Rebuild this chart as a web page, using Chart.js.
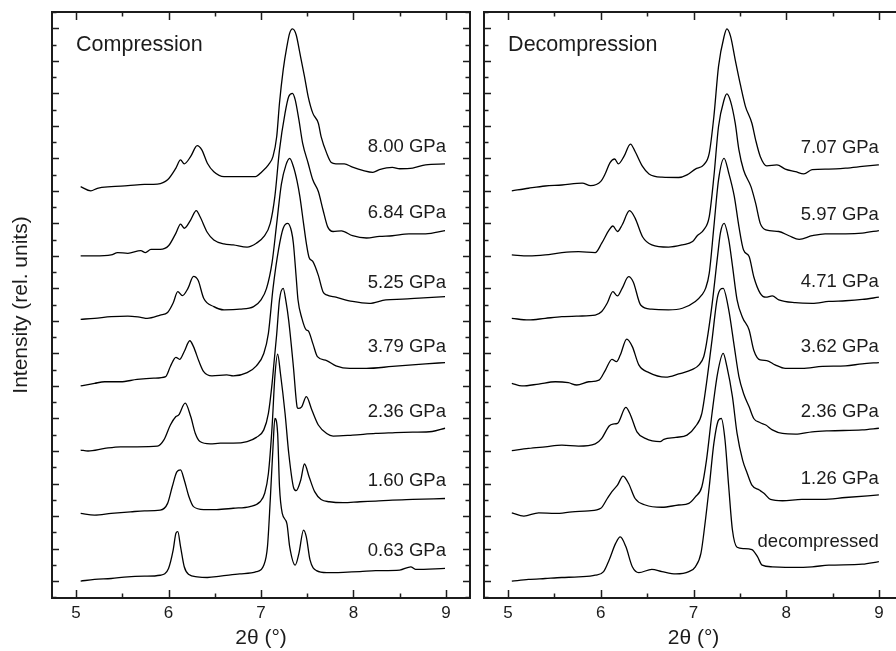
<!DOCTYPE html>
<html>
<head>
<meta charset="utf-8">
<script src="https://cdn.jsdelivr.net/npm/chart.js@4.4.1/dist/chart.umd.min.js"></script>
<style>
  html, body { margin: 0; padding: 0; background: #fff; overflow: hidden; }
  #wrap { position: relative; width: 896px; height: 651px; overflow: hidden; }
  #left { position: absolute; left: 0; top: 0; }
  #right { position: absolute; left: 478px; top: 0; }
</style>
</head>
<body>
<div id="wrap">
  <canvas id="left" width="478" height="651"></canvas>
  <canvas id="right" width="430" height="651"></canvas>
</div>
<script>
// XRD patterns, [2theta, intensity above own baseline]; spectra stacked by offsets
const comp063 = [[5.05,0],[5.2,0.05],[5.38,0.08],[5.56,0.13],[5.74,0.15],[5.91,0.18],[6.0,0.39],[6.05,0.95],[6.08,1.47],[6.1,1.52],[6.13,1.06],[6.17,0.44],[6.22,0.2],[6.31,0.13],[6.42,0.11],[6.56,0.15],[6.77,0.22],[6.95,0.29],[7.03,0.49],[7.07,1.06],[7.1,2.49],[7.13,4.13],[7.15,5.0],[7.18,4.54],[7.2,2.9],[7.23,2.08],[7.28,1.77],[7.31,1.06],[7.37,0.49],[7.41,0.85],[7.46,1.57],[7.49,1.36],[7.53,0.65],[7.6,0.32],[7.71,0.26],[7.89,0.27],[8.07,0.29],[8.24,0.32],[8.5,0.34],[8.62,0.44],[8.67,0.36],[8.99,0.39]];
const comp160 = [[5.05,0.08],[5.2,0.03],[5.38,0.08],[5.59,0.13],[5.74,0.16],[5.91,0.18],[5.99,0.39],[6.04,0.9],[6.09,1.36],[6.13,1.42],[6.17,1.11],[6.22,0.6],[6.27,0.29],[6.38,0.2],[6.52,0.2],[6.7,0.24],[6.88,0.29],[6.99,0.44],[7.04,0.7],[7.08,1.31],[7.12,2.75],[7.15,4.29],[7.18,4.98],[7.21,4.39],[7.26,3.16],[7.3,1.93],[7.35,0.9],[7.38,0.78],[7.43,1.11],[7.47,1.6],[7.52,1.21],[7.58,0.75],[7.65,0.51],[7.74,0.44],[7.89,0.41],[8.07,0.44],[8.24,0.46],[8.42,0.49],[8.64,0.51],[8.99,0.54]];
const comp236 = [[5.05,0.03],[5.13,0],[5.31,0.08],[5.48,0.13],[5.66,0.13],[5.88,0.15],[5.95,0.34],[6.02,0.8],[6.08,1.06],[6.11,1.11],[6.18,1.47],[6.24,1.06],[6.29,0.54],[6.34,0.29],[6.45,0.22],[6.56,0.24],[6.7,0.24],[6.85,0.29],[6.95,0.42],[7.03,0.65],[7.08,1.16],[7.12,2.08],[7.14,2.7],[7.17,3.6],[7.2,4.65],[7.24,5.0],[7.27,4.6],[7.3,4.0],[7.35,2.6],[7.39,1.36],[7.4,1.31],[7.44,1.36],[7.49,1.67],[7.55,1.26],[7.62,0.8],[7.71,0.54],[7.78,0.46],[7.99,0.49],[8.24,0.54],[8.42,0.56],[8.64,0.58],[8.85,0.6],[8.99,0.7]];
const comp379 = [[5.05,0],[5.2,0.08],[5.31,0.13],[5.48,0.13],[5.66,0.2],[5.84,0.24],[5.97,0.29],[6.02,0.6],[6.08,0.88],[6.12,0.82],[6.17,1.06],[6.23,1.39],[6.27,1.21],[6.33,0.75],[6.38,0.44],[6.47,0.31],[6.63,0.34],[6.7,0.31],[6.85,0.41],[6.95,0.62],[7.03,1.0],[7.08,1.62],[7.13,3.0],[7.19,4.2],[7.24,4.85],[7.29,5.0],[7.33,4.75],[7.35,4.39],[7.38,3.36],[7.4,2.65],[7.44,2.1],[7.49,1.72],[7.51,1.7],[7.56,1.31],[7.61,0.9],[7.71,0.78],[7.81,0.62],[7.96,0.54],[8.14,0.54],[8.42,0.6],[8.78,0.68],[8.99,0.72]];
const comp525 = [[5.05,0.05],[5.2,0.08],[5.38,0.13],[5.56,0.15],[5.7,0.11],[5.77,0.08],[5.91,0.18],[5.99,0.26],[6.05,0.55],[6.1,0.9],[6.15,0.78],[6.21,1.0],[6.27,1.37],[6.32,1.25],[6.38,0.7],[6.49,0.44],[6.6,0.34],[6.77,0.36],[6.92,0.44],[7.0,0.65],[7.06,1.0],[7.12,1.8],[7.17,3.0],[7.22,4.2],[7.27,4.8],[7.31,5.0],[7.35,4.75],[7.39,4.3],[7.42,3.83],[7.46,3.0],[7.49,2.39],[7.52,1.95],[7.56,1.83],[7.62,1.4],[7.67,0.9],[7.71,0.8],[7.81,0.73],[7.99,0.6],[8.17,0.54],[8.35,0.65],[8.53,0.67],[8.71,0.7],[8.99,0.75]];
const comp684 = [[5.05,0],[5.2,0],[5.38,0.03],[5.45,0.1],[5.56,0.08],[5.7,0.16],[5.75,0.1],[5.81,0.2],[5.91,0.2],[6.0,0.31],[6.08,0.7],[6.13,0.98],[6.17,0.85],[6.24,1.11],[6.3,1.39],[6.34,1.21],[6.42,0.72],[6.49,0.49],[6.6,0.37],[6.7,0.34],[6.85,0.27],[6.95,0.39],[7.03,0.59],[7.1,1.0],[7.15,1.83],[7.2,3.26],[7.26,4.39],[7.3,4.9],[7.34,5.0],[7.37,4.8],[7.41,4.18],[7.45,3.47],[7.51,2.85],[7.56,2.34],[7.62,1.98],[7.67,1.42],[7.72,0.9],[7.78,0.75],[7.87,0.77],[7.99,0.62],[8.14,0.55],[8.28,0.6],[8.42,0.62],[8.6,0.68],[8.78,0.68],[8.99,0.78]];
const comp800 = [[5.05,0.13],[5.16,0],[5.23,0.08],[5.38,0.13],[5.56,0.16],[5.74,0.2],[5.88,0.21],[5.99,0.34],[6.08,0.7],[6.13,0.95],[6.17,0.83],[6.24,1.06],[6.31,1.39],[6.36,1.26],[6.42,0.85],[6.49,0.59],[6.6,0.44],[6.74,0.44],[6.94,0.44],[7.01,0.59],[7.08,0.8],[7.13,1.06],[7.17,1.67],[7.2,2.7],[7.24,3.72],[7.28,4.44],[7.31,4.85],[7.34,4.98],[7.38,4.8],[7.42,4.24],[7.47,3.52],[7.51,2.9],[7.56,2.39],[7.62,2.08],[7.65,1.67],[7.71,1.16],[7.76,0.87],[7.81,0.83],[7.9,0.83],[7.99,0.73],[8.1,0.63],[8.21,0.57],[8.28,0.65],[8.42,0.72],[8.5,0.68],[8.64,0.7],[8.78,0.8],[8.99,0.83]];

const decDone = [[5.04,0],[5.22,0.05],[5.4,0.08],[5.58,0.11],[5.76,0.13],[5.94,0.18],[6.03,0.29],[6.09,0.65],[6.16,1.16],[6.21,1.36],[6.27,1.06],[6.34,0.44],[6.41,0.26],[6.55,0.36],[6.66,0.29],[6.81,0.22],[6.95,0.29],[7.02,0.44],[7.08,0.85],[7.12,1.67],[7.17,2.9],[7.22,4.24],[7.27,4.95],[7.3,5.0],[7.34,4.34],[7.38,2.9],[7.42,1.57],[7.47,1.04],[7.54,1.0],[7.63,0.97],[7.69,0.75],[7.74,0.49],[7.85,0.44],[8.1,0.42],[8.28,0.44],[8.46,0.49],[8.82,0.52],[9.0,0.6]];
const dec126 = [[5.04,0.1],[5.17,0],[5.33,0.1],[5.51,0.08],[5.69,0.13],[5.87,0.16],[6.0,0.24],[6.07,0.54],[6.12,0.75],[6.18,0.95],[6.24,1.23],[6.3,1.0],[6.37,0.54],[6.48,0.34],[6.66,0.27],[6.84,0.34],[6.95,0.39],[7.02,0.59],[7.09,0.9],[7.14,1.72],[7.2,3.16],[7.26,4.39],[7.32,5.0],[7.36,4.6],[7.42,3.67],[7.47,2.54],[7.53,1.72],[7.58,1.31],[7.63,0.95],[7.71,0.8],[7.76,0.7],[7.83,0.51],[7.96,0.47],[8.17,0.51],[8.39,0.51],[8.64,0.57],[9.0,0.65]];
const dec236 = [[5.04,0.01],[5.22,0.08],[5.4,0.13],[5.58,0.18],[5.76,0.15],[5.94,0.22],[6.01,0.39],[6.09,0.77],[6.13,0.83],[6.18,0.85],[6.27,1.34],[6.32,1.11],[6.39,0.59],[6.48,0.39],[6.64,0.29],[6.68,0.36],[6.81,0.42],[6.93,0.49],[7.02,0.75],[7.09,1.16],[7.14,2.08],[7.2,3.42],[7.26,4.75],[7.32,5.0],[7.38,4.34],[7.44,3.21],[7.49,2.29],[7.54,1.77],[7.6,1.36],[7.65,1.0],[7.72,0.87],[7.78,0.8],[7.85,0.65],[7.96,0.54],[8.1,0.52],[8.28,0.59],[8.46,0.62],[8.82,0.65],[9.0,0.7]];
const dec362 = [[5.04,0.08],[5.15,0],[5.33,0.06],[5.51,0.13],[5.65,0.1],[5.74,0.03],[5.87,0.13],[5.98,0.18],[6.05,0.49],[6.12,0.82],[6.17,0.75],[6.21,0.95],[6.28,1.44],[6.34,1.21],[6.41,0.65],[6.52,0.41],[6.7,0.27],[6.84,0.37],[6.99,0.51],[7.06,0.65],[7.11,0.9],[7.14,1.31],[7.2,2.5],[7.26,4.0],[7.29,4.7],[7.33,5.0],[7.38,4.5],[7.42,3.7],[7.47,2.65],[7.53,2.1],[7.6,1.72],[7.65,1.1],[7.72,0.8],[7.79,0.78],[7.88,0.65],[7.99,0.54],[8.17,0.54],[8.39,0.6],[8.64,0.62],[8.82,0.68],[9.0,0.72]];
const dec471 = [[5.04,0.08],[5.22,0.03],[5.4,0.08],[5.58,0.13],[5.76,0.15],[5.94,0.18],[6.01,0.29],[6.07,0.55],[6.13,0.9],[6.18,0.77],[6.23,1.0],[6.3,1.36],[6.35,1.2],[6.43,0.49],[6.55,0.36],[6.73,0.34],[6.88,0.39],[7.02,0.6],[7.09,0.8],[7.13,1.0],[7.17,1.47],[7.22,2.9],[7.27,4.34],[7.33,5.0],[7.38,4.55],[7.44,3.83],[7.49,2.9],[7.54,2.18],[7.6,1.98],[7.65,1.36],[7.72,0.85],[7.78,0.73],[7.85,0.77],[7.92,0.65],[8.1,0.56],[8.28,0.54],[8.46,0.6],[8.64,0.62],[8.82,0.66],[9.0,0.73]];
const dec597 = [[5.04,0.03],[5.22,0],[5.4,0.03],[5.58,0.1],[5.76,0.13],[5.94,0.1],[6.01,0.39],[6.09,0.8],[6.13,0.92],[6.18,0.75],[6.23,0.95],[6.31,1.39],[6.37,1.16],[6.45,0.59],[6.55,0.34],[6.73,0.27],[6.88,0.34],[6.99,0.44],[7.04,0.62],[7.11,0.8],[7.17,1.21],[7.22,2.44],[7.27,3.98],[7.33,4.8],[7.36,4.98],[7.4,4.75],[7.45,4.08],[7.49,3.26],[7.54,2.64],[7.62,2.13],[7.67,1.62],[7.72,1.0],[7.78,0.8],[7.92,0.75],[8.03,0.62],[8.14,0.51],[8.28,0.62],[8.42,0.68],[8.64,0.68],[8.82,0.7],[9.0,0.78]];
const dec707 = [[5.04,0],[5.22,0.08],[5.4,0.15],[5.58,0.18],[5.8,0.24],[5.89,0.16],[6.0,0.29],[6.05,0.54],[6.1,0.87],[6.15,0.98],[6.19,0.83],[6.25,1.06],[6.32,1.44],[6.37,1.21],[6.45,0.75],[6.52,0.52],[6.66,0.42],[6.84,0.41],[6.93,0.49],[7.02,0.67],[7.11,0.8],[7.17,1.16],[7.22,2.29],[7.27,3.83],[7.33,4.75],[7.36,4.98],[7.4,4.75],[7.45,4.03],[7.51,3.21],[7.56,2.6],[7.63,2.08],[7.67,1.57],[7.72,1.06],[7.79,0.77],[7.9,0.8],[7.99,0.67],[8.1,0.59],[8.19,0.52],[8.28,0.65],[8.46,0.67],[8.64,0.7],[8.82,0.75],[9.0,0.8]];

const compSeries = [comp063, comp160, comp236, comp379, comp525, comp684, comp800];
const decSeries = [decDone, dec126, dec236, dec362, dec471, dec597, dec707];
const stackOffsets = [0, 2, 4, 6, 8, 10, 12];

const compLabels = ['0.63 GPa', '1.60 GPa', '2.36 GPa', '3.79 GPa', '5.25 GPa', '6.84 GPa', '8.00 GPa'];
const compLabelY = [0.77, 2.92, 5.05, 7.05, 9.02, 11.17, 13.2];
const decLabels = ['decompressed', '1.26 GPa', '2.36 GPa', '3.62 GPa', '4.71 GPa', '5.97 GPa', '7.07 GPa'];
const decLabelY = [1.05, 3.0, 5.05, 7.05, 9.05, 11.1, 13.17];

const xTickValues = [5, 6, 7, 8, 9];
const xRange = [4.74, 9.26];
const yRange = [-0.52, 17.5];

const FONT = '"Liberation Sans", Arial, Helvetica, sans-serif';
const INK = '#1c1c1c';
Chart.defaults.font.family = FONT;
Chart.defaults.color = INK;

// frame, inward ticks on all four sides, panel title and curve labels
const panelDecor = {
  id: 'panelDecor',
  afterDraw(chart, args, opts) {
    const { ctx, chartArea: a, scales: { x, y } } = chart;
    ctx.save();
    ctx.strokeStyle = INK;
    ctx.lineWidth = 1.5;
    ctx.beginPath();
    for (let v = Math.ceil(x.min * 2) / 2; v <= x.max; v += 0.5) {
      const px = Math.round(x.getPixelForValue(v)) + 0.5;
      const len = Number.isInteger(v) ? 8 : 4.5;
      ctx.moveTo(px, a.bottom); ctx.lineTo(px, a.bottom - len);
      ctx.moveTo(px, a.top); ctx.lineTo(px, a.top + len);
    }
    for (let v = Math.ceil(y.min * 2) / 2; v <= y.max; v += 0.5) {
      const py = Math.round(y.getPixelForValue(v)) + 0.5;
      const len = Number.isInteger(v) ? 7 : 4.5;
      ctx.moveTo(a.left, py); ctx.lineTo(a.left + len, py);
      ctx.moveTo(a.right, py); ctx.lineTo(a.right - len, py);
    }
    ctx.stroke();
    ctx.lineWidth = 2;
    ctx.strokeRect(a.left, a.top, a.right - a.left, a.bottom - a.top);

    ctx.fillStyle = INK;
    ctx.textBaseline = 'alphabetic';
    ctx.textAlign = 'left';
    ctx.font = '21.5px ' + FONT;
    ctx.fillText(opts.title, x.getPixelForValue(5), y.getPixelForValue(16.3));
    ctx.textAlign = 'right';
    ctx.font = '18.5px ' + FONT;
    opts.labels.forEach((t, i) => {
      ctx.fillText(t, x.getPixelForValue(9), y.getPixelForValue(opts.labelY[i]));
    });
    ctx.restore();
  }
};

function makeDatasets(series) {
  return series.map((pts, i) => ({
    data: pts.map(p => ({ x: p[0], y: p[1] + stackOffsets[i] })),
    borderColor: '#000',
    borderWidth: 1.3,
    pointRadius: 0,
    fill: false,
    cubicInterpolationMode: 'monotone'
  }));
}

function makeChart(id, series, title, labels, labelY, showYTitle, yWidth, padding) {
  return new Chart(document.getElementById(id), {
    type: 'line',
    data: { datasets: makeDatasets(series) },
    plugins: [panelDecor],
    options: {
      responsive: false,
      animation: false,
      layout: { padding: padding },
      plugins: {
        legend: { display: false },
        tooltip: { enabled: false },
        panelDecor: { title: title, labels: labels, labelY: labelY }
      },
      scales: {
        x: {
          type: 'linear',
          min: xRange[0],
          max: xRange[1],
          grid: { display: false, drawTicks: false },
          border: { display: false },
          afterBuildTicks: s => { s.ticks = xTickValues.map(v => ({ value: v })); },
          afterFit: s => { s.height = 53; },
          ticks: { padding: 5, font: { size: 17 }, color: INK },
          title: { display: true, text: '2θ (°)', font: { size: 21 }, color: INK, padding: { top: 0, bottom: 0 } }
        },
        y: {
          display: showYTitle,
          min: yRange[0],
          max: yRange[1],
          grid: { display: false, drawTicks: false },
          border: { display: false },
          ticks: { display: false },
          afterFit: s => { s.width = yWidth; },
          title: { display: showYTitle, text: 'Intensity (rel. units)', font: { size: 21 }, color: INK, padding: { top: 9, bottom: 0 } }
        }
      }
    }
  });
}

makeChart('left', compSeries, 'Compression', compLabels, compLabelY, true, 52, { top: 12, right: 8, bottom: 0, left: 0 });
makeChart('right', decSeries, 'Decompression', decLabels, decLabelY, false, 0, { top: 12, right: 5, bottom: 0, left: 6 });
</script>
</body>
</html>
